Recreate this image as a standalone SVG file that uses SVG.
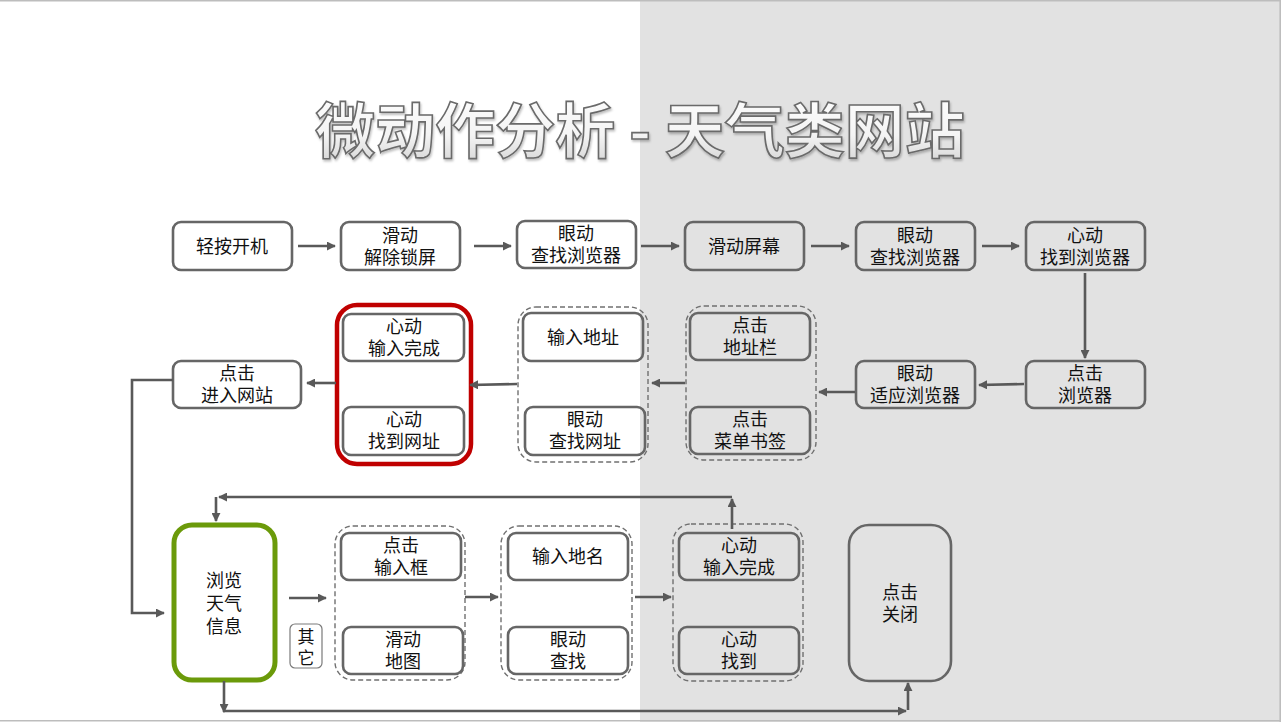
<svg xmlns="http://www.w3.org/2000/svg" width="1281" height="722" viewBox="0 0 1281 722">
  <defs>
    <linearGradient id="titleFill" x1="0" y1="0" x2="0" y2="1">
      <stop offset="0" stop-color="#ffffff"/>
      <stop offset="0.6" stop-color="#f4f4f4"/>
      <stop offset="1" stop-color="#cfcfcf"/>
    </linearGradient>
    <filter id="titleShadow" x="-5%" y="-20%" width="110%" height="140%">
      <feDropShadow dx="1" dy="2" stdDeviation="1.2" flood-color="#000" flood-opacity="0.25"/>
    </filter>
    <marker id="arrow" viewBox="0 0 10 10" refX="9" refY="5" markerWidth="9" markerHeight="9" markerUnits="userSpaceOnUse" orient="auto">
      <path d="M0,0 L10,5 L0,10 z" fill="#595959"/>
    </marker>
    <style>
      .box { fill: none; stroke: #666; stroke-width: 2.6; }
      .group { fill: none; stroke: #707070; stroke-width: 1.4; stroke-dasharray: 5 3; }
      .hl-red { fill: none; stroke: #c00000; stroke-width: 4.5; }
      .hl-green { fill: none; stroke: #6b9a0a; stroke-width: 5; }
      .small { fill: #fff; stroke: #7a7a7a; stroke-width: 1.2; }
      .lbl { font-family: "Liberation Sans", "Noto Sans CJK SC", sans-serif; font-size: 18px; fill: #111; text-anchor: middle; }
      .conn { fill: none; stroke: #595959; stroke-width: 2.6; marker-end: url(#arrow); }
      .title { font-family: "Noto Sans CJK SC", "Noto Sans", sans-serif; font-size: 60px; font-weight: 700; text-anchor: middle; fill: url(#titleFill); stroke: #6a6a6a; stroke-width: 1.6; }
    </style>
  </defs>

  <!-- page background: white left half, light gray right half -->
  <rect x="0" y="0" width="640" height="722" fill="#ffffff"/>
  <rect x="640" y="0" width="641" height="722" fill="#e2e2e2"/>
  <path d="M0,0.8 H1281 M1280.2,0 V722 M0,720.8 H1281" stroke="#bdbdbd" stroke-width="1.6" fill="none"/>

  <!-- title -->
  <text class="title" x="640" y="153" filter="url(#titleShadow)">微动作分析 - 天气类网站</text>

  <!-- row 1 -->
  <g id="n-power">
    <rect class="box" x="173" y="222" width="119" height="48" rx="8"/>
    <text class="lbl" x="232" y="253">轻按开机</text>
  </g>
  <g id="n-unlock">
    <rect class="box" x="341" y="222" width="119" height="48" rx="8"/>
    <text class="lbl" x="400" y="242">滑动<tspan x="400" dy="22">解除锁屏</tspan></text>
  </g>
  <g id="n-look-browser-1">
    <rect class="box" x="517" y="221" width="119" height="47" rx="8"/>
    <text class="lbl" x="576" y="240">眼动<tspan x="576" dy="22">查找浏览器</tspan></text>
  </g>
  <g id="n-swipe">
    <rect class="box" x="685" y="222" width="119" height="48" rx="8"/>
    <text class="lbl" x="744" y="253">滑动屏幕</text>
  </g>
  <g id="n-look-browser-2">
    <rect class="box" x="856" y="222" width="119" height="48" rx="8"/>
    <text class="lbl" x="915" y="242">眼动<tspan x="915" dy="22">查找浏览器</tspan></text>
  </g>
  <g id="n-found-browser">
    <rect class="box" x="1026" y="222" width="119" height="48" rx="8"/>
    <text class="lbl" x="1085" y="242">心动<tspan x="1085" dy="22">找到浏览器</tspan></text>
  </g>

  <!-- row 2 -->
  <g id="n-click-browser">
    <rect class="box" x="1026" y="361" width="119" height="47" rx="8"/>
    <text class="lbl" x="1085" y="380">点击<tspan x="1085" dy="22">浏览器</tspan></text>
  </g>
  <g id="n-adapt-browser">
    <rect class="box" x="856" y="361" width="119" height="47" rx="8"/>
    <text class="lbl" x="915" y="380">眼动<tspan x="915" dy="22">适应浏览器</tspan></text>
  </g>
  <g id="g-address-bar">
    <rect class="group" x="686" y="306" width="130" height="154" rx="18"/>
    <g id="n-click-addressbar">
      <rect class="box" x="690" y="313" width="120" height="47" rx="8"/>
      <text class="lbl" x="750" y="332">点击<tspan x="750" dy="22">地址栏</tspan></text>
    </g>
    <g id="n-click-bookmark">
      <rect class="box" x="690" y="407" width="120" height="47" rx="8"/>
      <text class="lbl" x="750" y="426">点击<tspan x="750" dy="22">菜单书签</tspan></text>
    </g>
  </g>
  <g id="g-address-input">
    <rect class="group" x="518" y="307" width="130" height="155" rx="18"/>
    <g id="n-input-address">
      <rect class="box" x="523" y="313" width="120" height="48" rx="8"/>
      <text class="lbl" x="583" y="344">输入地址</text>
    </g>
    <g id="n-look-url">
      <rect class="box" x="525" y="407" width="120" height="48" rx="8"/>
      <text class="lbl" x="585" y="426">眼动<tspan x="585" dy="22">查找网址</tspan></text>
    </g>
  </g>
  <g id="g-heart-url">
    <rect class="hl-red" x="337" y="305" width="134" height="159" rx="20"/>
    <g id="n-input-done-1">
      <rect class="box" x="343" y="314" width="121" height="47" rx="8"/>
      <text class="lbl" x="404" y="333">心动<tspan x="404" dy="22">输入完成</tspan></text>
    </g>
    <g id="n-found-url">
      <rect class="box" x="343" y="407" width="121" height="48" rx="8"/>
      <text class="lbl" x="404" y="426">心动<tspan x="404" dy="22">找到网址</tspan></text>
    </g>
  </g>
  <g id="n-enter-site">
    <rect class="box" x="173" y="361" width="128" height="47" rx="8"/>
    <text class="lbl" x="237" y="380">点击<tspan x="237" dy="22">进入网站</tspan></text>
  </g>

  <!-- row 3 -->
  <g id="n-weather">
    <rect class="hl-green" x="174" y="525" width="101" height="155" rx="18"/>
    <text class="lbl" x="224" y="587">浏览<tspan x="224" dy="23">天气</tspan><tspan x="224" dy="23">信息</tspan></text>
  </g>
  <g id="n-other">
    <rect class="small" x="290" y="624" width="32" height="44" rx="5"/>
    <text class="lbl" x="306" y="643" style="font-size:17px">其<tspan x="306" dy="21">它</tspan></text>
  </g>
  <g id="g-input-box">
    <rect class="group" x="335" y="526" width="130" height="154" rx="18"/>
    <g id="n-click-input">
      <rect class="box" x="341" y="533" width="120" height="47" rx="8"/>
      <text class="lbl" x="401" y="552">点击<tspan x="401" dy="22">输入框</tspan></text>
    </g>
    <g id="n-swipe-map">
      <rect class="box" x="343" y="627" width="120" height="47" rx="8"/>
      <text class="lbl" x="403" y="646">滑动<tspan x="403" dy="22">地图</tspan></text>
    </g>
  </g>
  <g id="g-place">
    <rect class="group" x="501" y="526" width="131" height="154" rx="18"/>
    <g id="n-input-place">
      <rect class="box" x="508" y="533" width="120" height="47" rx="8"/>
      <text class="lbl" x="568" y="563">输入地名</text>
    </g>
    <g id="n-look">
      <rect class="box" x="508" y="627" width="120" height="47" rx="8"/>
      <text class="lbl" x="568" y="646">眼动<tspan x="568" dy="22">查找</tspan></text>
    </g>
  </g>
  <g id="g-heart-found">
    <rect class="group" x="673" y="524" width="130" height="157" rx="18"/>
    <g id="n-input-done-2">
      <rect class="box" x="679" y="533" width="120" height="47" rx="8"/>
      <text class="lbl" x="739" y="552">心动<tspan x="739" dy="22">输入完成</tspan></text>
    </g>
    <g id="n-found">
      <rect class="box" x="679" y="627" width="120" height="47" rx="8"/>
      <text class="lbl" x="739" y="646">心动<tspan x="739" dy="22">找到</tspan></text>
    </g>
  </g>
  <g id="n-close">
    <rect class="box" x="849" y="525" width="102" height="156" rx="20"/>
    <text class="lbl" x="900" y="599">点击<tspan x="900" dy="22">关闭</tspan></text>
  </g>

  <!-- connectors -->
  <g id="connectors">
    <path class="conn" d="M298,246 H335"/>
    <path class="conn" d="M474,246 H511"/>
    <path class="conn" d="M641,246 H679"/>
    <path class="conn" d="M811,246 H849"/>
    <path class="conn" d="M982,246 H1019"/>
    <path class="conn" d="M1085,273 V358"/>
    <path class="conn" d="M1024,384 L979,385"/>
    <path class="conn" d="M855,392 H819"/>
    <path class="conn" d="M685,383 H652"/>
    <path class="conn" d="M517,384 L470,385"/>
    <path class="conn" d="M336,383 H307"/>
    <path class="conn" d="M173,380 H132 V613 H164"/>
    <path class="conn" d="M732,529 V499"/>
    <path class="conn" d="M732,497 H219"/>
    <path class="conn" d="M216,497 V521"/>
    <path class="conn" d="M224,681 V712"/>
    <path class="conn" d="M223,711 H906"/>
    <path class="conn" d="M908,710 V683"/>
    <path class="conn" d="M289,598 H326"/>
    <path class="conn" d="M465,597 H498"/>
    <path class="conn" d="M635,597 H671"/>
  </g>
</svg>
